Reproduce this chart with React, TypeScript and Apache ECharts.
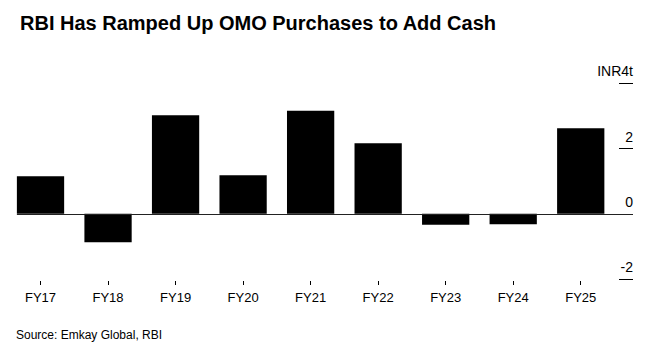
import React, { useEffect, useRef } from "react";
import * as echarts from "echarts";

const categories = ["FY17", "FY18", "FY19", "FY20", "FY21", "FY22", "FY23", "FY24", "FY25"];
const omoValues = [1.15, -0.87, 3.02, 1.18, 3.16, 2.16, -0.34, -0.32, 2.62];
const yTicks = { min: -2, max: 4, interval: 2 };
const unitLabel = "INR4t";
const titleText = "RBI Has Ramped Up OMO Purchases to Add Cash";
const sourceText = "Source: Emkay Global, RBI";

export default function App() {
  const ref = useRef<HTMLDivElement>(null);
  useEffect(() => {
    if (!ref.current) return;
    const chart = echarts.init(ref.current, null, { renderer: "svg" });
    const gridLeft = 6.75;
    const gridRight = 44.5;
    const yOffset = 4.5;
    const yTickLen = 14;
    const barPct = 0.7;
    const sourceGraphic = {
      type: "text",
      left: 16,
      top: 329,
      style: {
        text: sourceText,
        font: "12px 'Liberation Sans', Arial, sans-serif",
        fill: "#000",
      },
    };
    chart.setOption({
      animation: false,
      title: {
        text: titleText,
        left: 15,
        top: 8,
        textStyle: {
          fontFamily: "'Liberation Sans', Arial, sans-serif",
          fontWeight: "bold",
          fontSize: 20,
          color: "#000",
        },
      },
      graphic: [sourceGraphic],
      grid: { left: gridLeft, right: gridRight, top: 83.3, bottom: 76 },
      xAxis: {
        type: "category",
        data: categories,
        offset: 2,
        axisLine: { show: true, onZero: false, lineStyle: { color: "rgba(0,0,0,0)" } },
        axisTick: { show: true, alignWithLabel: true, length: 4, lineStyle: { color: "#000", width: 1 } },
        axisLabel: {
          margin: 10,
          fontSize: 13,
          color: "#000",
          fontFamily: "'Liberation Sans', Arial, sans-serif",
        },
      },
      yAxis: {
        type: "value",
        position: "right",
        min: yTicks.min,
        max: yTicks.max,
        interval: yTicks.interval,
        offset: yOffset,
        splitLine: { show: false },
        axisLine: { show: false },
        axisTick: { show: true, inside: false, length: yTickLen, lineStyle: { color: "#000" } },
        axisLabel: {
          align: "right",
          verticalAlign: "bottom",
          margin: yTickLen,
          padding: [0, 0, 5, 0],
          fontSize: 14,
          color: "#000",
          fontFamily: "'Liberation Sans', Arial, sans-serif",
          formatter: (v: number) => (v === yTicks.max ? unitLabel : String(v)),
        },
      },
      series: [
        {
          type: "bar",
          data: omoValues,
          barWidth: barPct * 100 + "%",
          itemStyle: { color: "#000" },
        },
      ],
    });
    const x0 = chart.convertToPixel({ xAxisIndex: 0 }, categories[0]) as number;
    const x1 = chart.convertToPixel({ xAxisIndex: 0 }, categories[1]) as number;
    const band = x1 - x0;
    const y0 = chart.convertToPixel({ yAxisIndex: 0 }, 0) as number;
    const startX = x0 - (band * barPct) / 2;
    const endX = chart.getWidth() - gridRight + yOffset + yTickLen;
    chart.setOption({
      graphic: [
        sourceGraphic,
        {
          type: "line",
          z: 100,
          shape: { x1: startX, y1: Math.round(y0) + 0.5, x2: endX, y2: Math.round(y0) + 0.5 },
          style: { stroke: "#222", lineWidth: 1 },
        },
      ],
    });
    return () => chart.dispose();
  }, []);
  return <div ref={ref} style={{ width: 659, height: 355, position: "absolute", left: 0, top: 0 }} />;
}
